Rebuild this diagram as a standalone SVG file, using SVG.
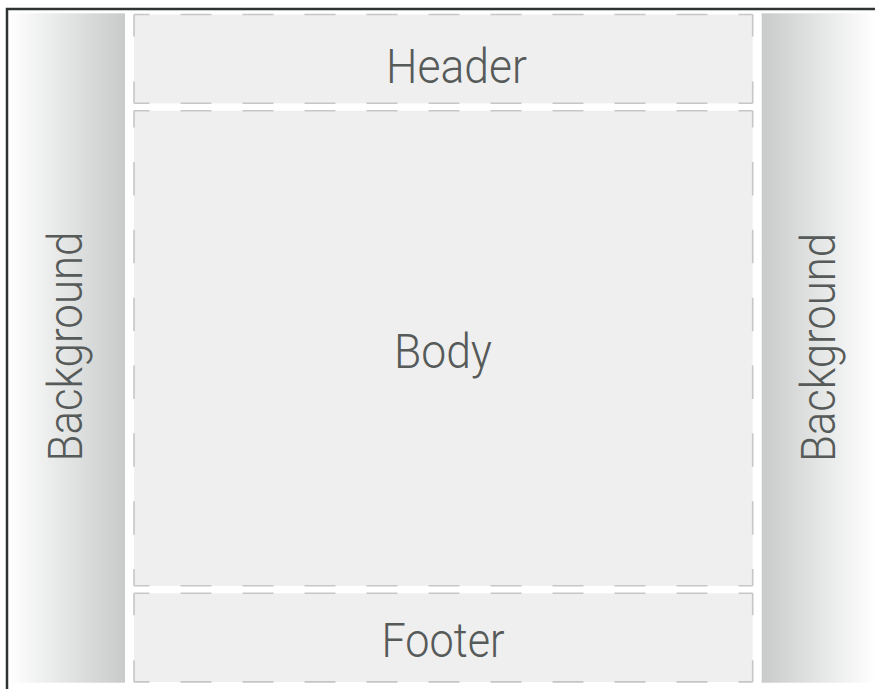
<svg xmlns="http://www.w3.org/2000/svg" width="875" height="689" viewBox="0 0 875 689">
  <defs>
    <linearGradient id="gradL" x1="0" y1="0" x2="1" y2="0">
      <stop offset="0" stop-color="#ffffff"/>
      <stop offset="1" stop-color="#c8cbca"/>
    </linearGradient>
    <linearGradient id="gradR" x1="0" y1="0" x2="1" y2="0">
      <stop offset="0" stop-color="#c8cbca"/>
      <stop offset="1" stop-color="#ffffff"/>
    </linearGradient>
  </defs>
  <style>
    .frame { fill: none; stroke: #2f3332; stroke-width: 2.5; }
    .box { fill: #efefef; stroke: none; }
    .edge { fill: none; stroke: #c5c7c6; stroke-width: 1.6; }
    .h { stroke-dasharray: 31 31; stroke-dashoffset: 15.5; }
    .vs { stroke-dasharray: 22 45 22; }
    .vb { stroke-dasharray: 33.5 34.36; stroke-dashoffset: 16.75; }
    .lbl { font-family: Roboto, "Liberation Sans", sans-serif; font-weight: 300; font-size: 49px; fill: #565a59; }
  </style>

  <rect width="875" height="689" fill="#ffffff"/>

  <g id="background-left">
    <rect x="8" y="13.3" width="117" height="669.4" fill="url(#gradL)"/>
    <text class="lbl" transform="translate(81.7,461.5) rotate(-90)" x="0" y="0" textLength="230" lengthAdjust="spacingAndGlyphs">Background</text>
  </g>

  <g id="background-right">
    <rect x="761.7" y="13.3" width="113.3" height="669.4" fill="url(#gradR)"/>
    <text class="lbl" transform="translate(835,462) rotate(-90)" x="0" y="0" textLength="229" lengthAdjust="spacingAndGlyphs">Background</text>
  </g>

  <g id="header">
    <rect class="box" x="134" y="14.5" width="618.7" height="88.8"/>
    <line class="edge h" x1="134" y1="14.5" x2="752.7" y2="14.5"/>
    <line class="edge h" x1="134" y1="103.3" x2="752.7" y2="103.3"/>
    <line class="edge vs" x1="134" y1="14.5" x2="134" y2="103.3"/>
    <line class="edge vs" x1="752.7" y1="14.5" x2="752.7" y2="103.3"/>
    <text class="lbl" x="386" y="83.3" textLength="141" lengthAdjust="spacingAndGlyphs">Header</text>
  </g>

  <g id="body">
    <rect class="box" x="134" y="110.8" width="618.7" height="475"/>
    <line class="edge h" x1="134" y1="110.8" x2="752.7" y2="110.8"/>
    <line class="edge h" x1="134" y1="585.8" x2="752.7" y2="585.8"/>
    <line class="edge vb" x1="134" y1="110.8" x2="134" y2="585.8"/>
    <line class="edge vb" x1="752.7" y1="110.8" x2="752.7" y2="585.8"/>
    <text class="lbl" x="394" y="368.3" textLength="98" lengthAdjust="spacingAndGlyphs">Body</text>
  </g>

  <g id="footer">
    <rect class="box" x="134" y="593.3" width="618.7" height="88.6"/>
    <line class="edge h" x1="134" y1="593.3" x2="752.7" y2="593.3"/>
    <line class="edge h" x1="134" y1="681.9" x2="752.7" y2="681.9"/>
    <line class="edge vs" x1="134" y1="593.3" x2="134" y2="681.9"/>
    <line class="edge vs" x1="752.7" y1="593.3" x2="752.7" y2="681.9"/>
    <text class="lbl" x="381.5" y="656.7" textLength="123" lengthAdjust="spacingAndGlyphs">Footer</text>
  </g>

  <g id="frame">
    <path class="frame" d="M7,689 V9 H875"/>
  </g>
</svg>
